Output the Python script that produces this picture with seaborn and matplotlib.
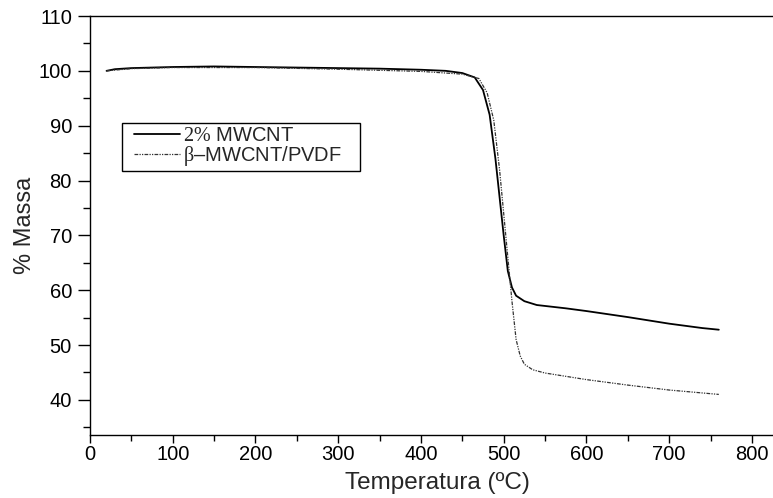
import numpy as np
import pandas as pd
import matplotlib
matplotlib.use("Agg")
import matplotlib.pyplot as plt
import seaborn as sns
from matplotlib.ticker import MultipleLocator
from matplotlib.path import Path

sns.set_theme(style="ticks")
plt.rcParams['font.family'] = ['Liberation Sans', 'DejaVu Sans']
plt.rcParams['mathtext.fontset'] = 'custom'
plt.rcParams['mathtext.rm'] = 'Liberation Serif'

# Data
temp_a = [20, 30, 50, 100, 150, 200, 250, 300, 350, 400, 430, 450, 465, 475, 483, 490,
          495, 500, 505, 510, 515, 525, 540, 575, 600, 650, 700, 740, 760]
mass_a = [100.0, 100.3, 100.5, 100.7, 100.8, 100.7, 100.6, 100.5, 100.4, 100.2, 100.0,
          99.6, 98.8, 96.5, 92.0, 84.0, 77.0, 70.0, 63.5, 60.5, 59.0, 58.0, 57.3, 56.7,
          56.2, 55.1, 53.9, 53.1, 52.8]

temp_b = [20, 50, 100, 200, 300, 350, 400, 450, 470, 480, 488, 495, 500, 505, 510, 515,
          520, 525, 535, 550, 600, 650, 700, 760]
mass_b = [100.0, 100.4, 100.6, 100.6, 100.3, 100.1, 99.9, 99.4, 98.6, 96.0, 91.0, 82.0,
          74.0, 66.0, 58.0, 51.0, 48.0, 46.5, 45.5, 44.9, 43.7, 42.7, 41.8, 41.0]

label_a = r"$\mathrm{2\%}$ MWCNT"
label_b = r"$\mathrm{\beta}$–MWCNT/PVDF"

df_a = pd.DataFrame({"T": temp_a, "m": mass_a})
df_b = pd.DataFrame({"T": temp_b, "m": mass_b})

fig = plt.figure(figsize=(7.73, 4.98), dpi=100)
ax = fig.add_axes([90/773, 1 - 435/498, 695/773, 419/498])

sns.lineplot(data=df_a, x="T", y="m", ax=ax, color="black", linewidth=1.3,
             label=label_a, estimator=None, sort=False)
sns.lineplot(data=df_b, x="T", y="m", ax=ax, color="#333333", linewidth=0.9,
             linestyle=(0, (3, 1, 1, 1, 1, 1)), label=label_b, estimator=None, sort=False)

ax.set_xlim(0, 840)
ax.set_ylim(33.6, 110)
ax.xaxis.set_major_locator(MultipleLocator(100))
ax.xaxis.set_minor_locator(MultipleLocator(50))
ax.yaxis.set_major_locator(MultipleLocator(10))
ax.yaxis.set_minor_locator(MultipleLocator(5))
ax.set_yticks([40, 50, 60, 70, 80, 90, 100, 110])
ax.tick_params(which='both', direction='out', width=1, labelsize=14.5,
               colors='black', top=False, right=False)
ax.tick_params(axis='x', which='major', length=6, pad=1)
ax.tick_params(axis='x', which='minor', length=4)
ax.tick_params(axis='y', which='major', length=9, pad=4)
ax.tick_params(axis='y', which='minor', length=5)
for s in ax.spines.values():
    s.set_color('black')
    s.set_linewidth(1)
ax.spines['right'].set_visible(False)

ax.set_xlabel("Temperatura (ºC)", fontsize=17.5, labelpad=6)
ax.set_ylabel("% Massa", fontsize=17, labelpad=2)

PAD_L, PAD_R = 9, 15


def legend_box(x0, y0, width, height, mutation_size):
    l = x0 - PAD_L
    r = x0 + width + PAD_R
    t = y0 + height
    return Path([(l, y0), (r, y0), (r, t), (l, t), (l, y0)],
                [Path.MOVETO, Path.LINETO, Path.LINETO, Path.LINETO, Path.CLOSEPOLY])


leg = ax.legend(loc='upper left', bbox_to_anchor=((122 + PAD_L - 90)/695, (435-123)/419),
                borderaxespad=0, frameon=True, fancybox=False, edgecolor='black',
                framealpha=1, fontsize=14.5, handlelength=2.3, borderpad=0.15,
                labelspacing=-0.05, handletextpad=0.15)
leg.get_frame().set_linewidth(1)
leg.get_frame().set_boxstyle(legend_box)

fig.savefig("out.png", dpi=100)
